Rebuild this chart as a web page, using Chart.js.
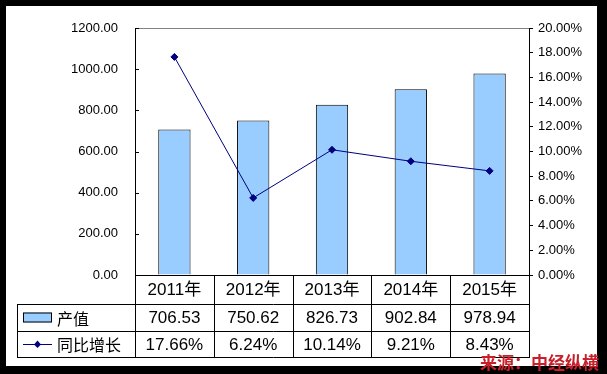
<!DOCTYPE html>
<html>
<head>
<meta charset="utf-8">
<script src="https://cdn.jsdelivr.net/npm/chart.js@4/dist/chart.umd.min.js"></script>
<style>
  html, body { margin: 0; padding: 0; background: #000; }
  #wrap { width: 607px; height: 374px; }
</style>
</head>
<body>
<div id="wrap"><canvas id="chart"></canvas></div>
<script>
const years = ['2011年', '2012年', '2013年', '2014年', '2015年'];
const output = [706.53, 750.62, 826.73, 902.84, 978.94];
const growth = [17.66, 6.24, 10.14, 9.21, 8.43];
const outputLabel = '产值';
const growthLabel = '同比增长';
const sourceText = '来源：中经纵横';

const FONT = '"Liberation Sans", Arial, "Noto Sans CJK SC", sans-serif';
const BAR = '#99CCFF';
const LINE = '#000080';

// frame, table under the axis, and the source note
const tablePlugin = {
    id: 'tablePlugin',
    beforeDraw(chart) {
        const c = chart.ctx;
        c.save();
        c.fillStyle = '#000';
        c.fillRect(0, 0, chart.width, chart.height);
        c.fillStyle = '#fff';
        c.fillRect(6, 6, 591, 360);
        c.restore();
    },
    afterDraw(chart) {
        const c = chart.ctx;
        const area = chart.chartArea;
        const x = chart.scales.x;
        const y = chart.scales.y;
        const colW = (area.right - area.left) / years.length;
        const rows = [area.bottom, area.bottom + 29, area.bottom + 56, area.bottom + 82];
        const tableLeft = 17;
        c.save();
        c.strokeStyle = '#000';
        c.lineWidth = 1;
        c.beginPath();
        // small inward ticks on the left axis
        y.ticks.forEach(t => {
            const py = Math.round(y.getPixelForValue(t.value)) + 0.5;
            c.moveTo(area.left, py);
            c.lineTo(area.left + 4, py);
        });
        for (let i = 0; i <= years.length; i++) {
            const px = Math.round(area.left + i * colW) + 0.5;
            c.moveTo(px, rows[0]);
            c.lineTo(px, rows[3]);
        }
        c.moveTo(tableLeft + 0.5, rows[1]);
        c.lineTo(tableLeft + 0.5, rows[3]);
        for (let r = 1; r <= 3; r++) {
            c.moveTo(tableLeft, Math.round(rows[r]) + 0.5);
            c.lineTo(Math.round(area.right) + 1, Math.round(rows[r]) + 0.5);
        }
        c.stroke();

        c.fillStyle = '#000';
        c.textAlign = 'center';
        c.textBaseline = 'middle';
        c.font = '17px ' + FONT;
        years.forEach((yr, i) => {
            const cx = x.getPixelForValue(i);
            c.fillText(yr, cx, (rows[0] + rows[1]) / 2 + 1);
            c.fillText(output[i].toFixed(2), cx, (rows[1] + rows[2]) / 2 + 1);
            c.fillText(growth[i].toFixed(2) + '%', cx, (rows[2] + rows[3]) / 2 + 1);
        });

        // legend keys
        const m1 = (rows[1] + rows[2]) / 2;
        const m2 = (rows[2] + rows[3]) / 2;
        c.fillStyle = BAR;
        c.fillRect(23, m1 - 5, 29, 10);
        c.strokeRect(23.5, m1 - 4.5, 28, 9);
        c.strokeStyle = LINE;
        c.beginPath();
        c.moveTo(23, Math.round(m2) + 0.5);
        c.lineTo(52, Math.round(m2) + 0.5);
        c.stroke();
        c.fillStyle = LINE;
        c.beginPath();
        c.moveTo(37.5, m2 - 3.5);
        c.lineTo(41, m2 + 0.5);
        c.lineTo(37.5, m2 + 4);
        c.lineTo(34, m2 + 0.5);
        c.closePath();
        c.fill();

        c.fillStyle = '#000';
        c.textAlign = 'left';
        c.font = '16px "Noto Sans CJK SC", sans-serif';
        c.fillText(outputLabel, 57, m1 + 1);
        c.fillText(growthLabel, 57, m2 + 1);

        c.fillStyle = '#c8202a';
        c.textAlign = 'right';
        c.textBaseline = 'alphabetic';
        c.font = 'bold 17px "Noto Sans CJK SC", sans-serif';
        c.fillText(sourceText, 599, 369);
        c.restore();
    }
};

new Chart(document.getElementById('chart'), {
    data: {
        labels: years,
        datasets: [
            {
                type: 'line',
                label: growthLabel,
                data: growth,
                yAxisID: 'y1',
                borderColor: LINE,
                backgroundColor: LINE,
                borderWidth: 1,
                pointStyle: 'rectRot',
                pointRadius: 3.5,
                tension: 0,
                order: 0
            },
            {
                type: 'bar',
                label: outputLabel,
                data: output,
                yAxisID: 'y',
                backgroundColor: BAR,
                borderColor: '#000',
                borderWidth: 1,
                barPercentage: 0.41,
                categoryPercentage: 1,
                order: 1
            }
        ]
    },
    options: {
        responsive: true,
        maintainAspectRatio: false,
        animation: false,
        layout: { padding: { top: 28, left: 0, right: 0, bottom: 0 } },
        plugins: { legend: { display: false }, tooltip: { enabled: false } },
        scales: {
            x: {
                offset: true,
                grid: { display: true, drawOnChartArea: false, drawTicks: false, offset: true },
                border: { color: '#000', width: 1 },
                ticks: { display: false },
                afterFit(s) { s.height = 99; }
            },
            y: {
                position: 'left',
                min: 0,
                max: 1200,
                ticks: {
                    stepSize: 200,
                    color: '#000',
                    padding: 17,
                    font: { family: FONT, size: 13 },
                    callback: v => v.toFixed(2)
                },
                grid: {
                    drawTicks: false,
                    color: ctx => ctx.tick && ctx.tick.value === 1200 ? '#808080' : 'rgba(0,0,0,0)'
                },
                border: { color: '#000', width: 1 },
                afterFit(s) { s.width = 135; }
            },
            y1: {
                position: 'right',
                min: 0,
                max: 20,
                ticks: {
                    stepSize: 2,
                    color: '#000',
                    padding: 5,
                    font: { family: FONT, size: 13 },
                    callback: v => v.toFixed(2) + '%'
                },
                grid: { drawOnChartArea: false, tickLength: 4, color: '#000' },
                border: { color: '#000', width: 1 },
                afterFit(s) { s.width = 78; }
            }
        }
    },
    plugins: [tablePlugin]
});
</script>
</body>
</html>
